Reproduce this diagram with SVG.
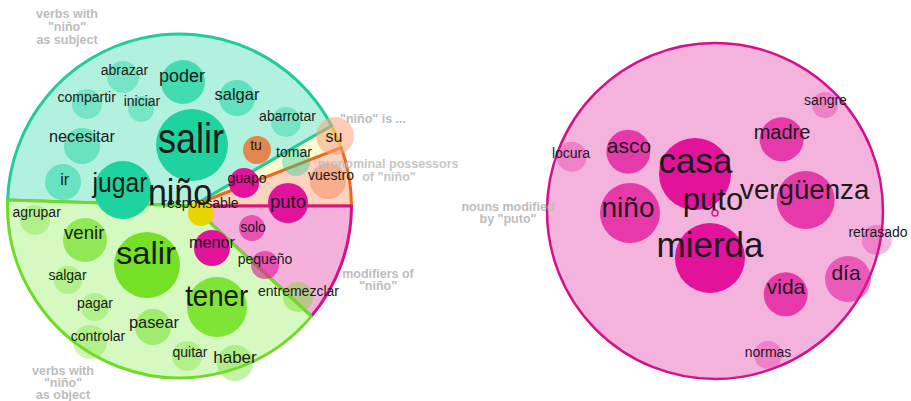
<svg xmlns="http://www.w3.org/2000/svg" width="911" height="401" viewBox="0 0 911 401">
<style>
.lbl{font-family:"Liberation Sans",Arial,sans-serif;fill:#1a1a1a;text-anchor:middle}
.cap{font-family:"Liberation Sans",Arial,sans-serif;font-weight:bold;fill:#bdbdbd;text-anchor:middle;font-size:12.5px}
.t{fill:#1ed3a0}
.g{fill:#74e126}
.m{fill:#e2129a}
.sec{stroke-width:3;stroke-linejoin:round}
</style>
<rect width="911" height="401" fill="#ffffff"/>
<g id="sectors">
<path id="sec-niño-is" class="sec" d="M192,206 L331.6,125.7 A172,172 0 0 1 341.2,147.6 Z" fill="#fdfbd2" stroke="#ecd600" stroke-width="6"/>
<path id="sec-subject" class="sec" d="M192,206 L7.6,200 A172,172 0 0 1 331.6,125.7 Z" fill="#b3f1df" stroke="#20cc98"/>
<path id="sec-possessors" class="sec" d="M192,206 L341.2,147.6 A172,172 0 0 1 351.5,206 Z" fill="#fcd3bf" stroke="#f0661e"/>
<path id="sec-modifiers" class="sec" d="M192,206 L351.5,206 A172,172 0 0 1 311.3,316.4 Z" fill="#f3b1dc" stroke="#d80f88"/>
<path id="sec-object" class="sec" d="M192,206 L311.3,316.4 A172,172 0 0 1 7.6,200 Z" fill="#d5f9c1" stroke="#6edc27"/>
<circle id="sec-puto" cx="715" cy="211" r="168" fill="#f3b3dd" stroke="#d5108a" stroke-width="2.5"/>
</g>
<g id="connectors"></g>
<g id="captions">
<text class="cap" x="67" y="18">verbs with</text>
<text class="cap" x="67" y="31">"niño"</text>
<text class="cap" x="67" y="44">as subject</text>
<text class="cap" x="63" y="375">verbs with</text>
<text class="cap" x="63" y="387">"niño"</text>
<text class="cap" x="63" y="399">as object</text>
<text class="cap" x="373" y="123">"niño" is ...</text>
<text class="cap" x="378" y="278">modifiers of</text>
<text class="cap" x="378" y="290">"niño"</text>
<text class="cap" x="508" y="211">nouns modified</text>
<text class="cap" x="508" y="223">by "puto"</text>
</g>
<g id="n-abrazar"><circle class="t" cx="123" cy="77" r="16" opacity="0.4"/><text class="lbl" x="124.5" y="75" font-size="14">abrazar</text></g>
<g id="n-poder"><circle class="t" cx="183" cy="82" r="22" opacity="0.75"/><text class="lbl" x="182" y="82" font-size="18">poder</text></g>
<g id="n-compartir"><circle class="t" cx="87" cy="104" r="15" opacity="0.4"/><text class="lbl" x="86.7" y="101.5" font-size="14">compartir</text></g>
<g id="n-iniciar"><circle class="t" cx="141" cy="109" r="13" opacity="0.4"/><text class="lbl" x="142" y="105.5" font-size="14">iniciar</text></g>
<g id="n-salgar-s"><circle class="t" cx="237" cy="98" r="18" opacity="0.55"/><text class="lbl" x="237" y="100" font-size="16.5">salgar</text></g>
<g id="n-abarrotar"><circle class="t" cx="286" cy="122" r="15" opacity="0.4"/><text class="lbl" x="287.5" y="120.7" font-size="14">abarrotar</text></g>
<g id="n-necesitar"><circle class="t" cx="82" cy="146" r="18" opacity="0.5"/><text class="lbl" x="82" y="141.7" font-size="16.3">necesitar</text></g>
<g id="n-salir-s"><circle class="t" cx="192" cy="145" r="36"/><text class="lbl" x="191" y="153" font-size="42" textLength="66" lengthAdjust="spacingAndGlyphs">salir</text></g>
<g id="n-tomar"><circle class="t" cx="296" cy="162" r="14" opacity="0.4"/><text class="lbl" x="294" y="156.7" font-size="14">tomar</text></g>
<g id="n-ir"><circle class="t" cx="63" cy="182" r="18" opacity="0.5"/><text class="lbl" x="64.7" y="185" font-size="16">ir</text></g>
<g id="n-jugar"><circle class="t" cx="123" cy="190" r="29"/><text class="lbl" x="120" y="191.5" font-size="27" textLength="55" lengthAdjust="spacingAndGlyphs">jugar</text></g>
<g id="n-tu"><circle cx="257" cy="150" r="14" fill="#e3874f"/><text class="lbl" x="256" y="150" font-size="14">tu</text></g>
<g id="n-su"><circle cx="335" cy="136" r="19" fill="#f9a27a" opacity="0.55"/><text class="lbl" x="334" y="141.7" font-size="16">su</text></g>
<g id="n-vuestro"><circle cx="328" cy="181" r="18" fill="#f5956b" opacity="0.6"/><text class="lbl" x="331" y="180" font-size="14">vuestro</text></g>
<text class="cap" x="388" y="168" opacity="0.85">pronominal possessors</text>
<text class="cap" x="389" y="181" opacity="0.85">of "niño"</text>
<g id="n-responsable"><circle cx="201" cy="213" r="13" fill="#e8d400"/><text class="lbl" x="200.5" y="208.3" font-size="14">responsable</text></g>
<g id="n-guapo"><circle class="m" cx="244" cy="183" r="15"/><text class="lbl" x="247" y="183.3" font-size="14">guapo</text></g>
<g id="n-puto-m"><circle class="m" cx="288" cy="203" r="20"/><text class="lbl" x="288" y="208.3" font-size="18.5">puto</text></g>
<g id="n-menor"><circle class="m" cx="212" cy="248" r="18"/><text class="lbl" x="212" y="247.7" font-size="16.2">menor</text></g>
<g id="n-solo"><circle class="m" cx="252" cy="228" r="13" opacity="0.6"/><text class="lbl" x="253" y="231.7" font-size="14">solo</text></g>
<g id="n-pequeño"><circle class="m" cx="265" cy="265" r="14" opacity="0.6"/><text class="lbl" x="265" y="264" font-size="14">pequeño</text></g>
<g id="n-entremezclar"><circle class="g" cx="298" cy="297" r="15" opacity="0.45"/><text class="lbl" x="298.5" y="296" font-size="14">entremezclar</text></g>
<g id="n-agrupar"><circle class="g" cx="35" cy="220" r="15" opacity="0.35"/><text class="lbl" x="36.7" y="217.3" font-size="14">agrupar</text></g>
<g id="n-venir"><circle class="g" cx="85" cy="240" r="22" opacity="0.7"/><text class="lbl" x="84.2" y="239.3" font-size="18.6">venir</text></g>
<g id="n-salir-o"><circle class="g" cx="147" cy="265" r="33"/><text class="lbl" x="146" y="264.3" font-size="32" textLength="60" lengthAdjust="spacingAndGlyphs">salir</text></g>
<g id="n-salgar-o"><circle class="g" cx="68" cy="280" r="14" opacity="0.35"/><text class="lbl" x="67.5" y="280" font-size="14">salgar</text></g>
<g id="n-pagar"><circle class="g" cx="95" cy="307" r="14" opacity="0.35"/><text class="lbl" x="95" y="307.7" font-size="14">pagar</text></g>
<g id="n-tener"><circle class="g" cx="217" cy="307" r="30" opacity="0.9"/><text class="lbl" x="216.7" y="306" font-size="30" textLength="63" lengthAdjust="spacingAndGlyphs">tener</text></g>
<g id="n-pasear"><circle class="g" cx="153" cy="327" r="18" opacity="0.55"/><text class="lbl" x="154" y="328.3" font-size="16.4">pasear</text></g>
<g id="n-controlar"><circle class="g" cx="90" cy="342" r="17" opacity="0.35"/><text class="lbl" x="98" y="340.7" font-size="14">controlar</text></g>
<g id="n-quitar"><circle class="g" cx="187" cy="356" r="15" opacity="0.35"/><text class="lbl" x="190" y="356.7" font-size="14">quitar</text></g>
<g id="n-haber"><circle class="g" cx="235" cy="363" r="18" opacity="0.4"/><text class="lbl" x="235" y="363.3" font-size="17">haber</text></g>
<g id="n-niño"><text class="lbl" x="180" y="205" font-size="36" textLength="64" lengthAdjust="spacingAndGlyphs">niño</text></g>
<g id="r-locura"><circle class="m" cx="571.7" cy="156.7" r="15" opacity="0.3"/><text class="lbl" x="571" y="158.3" font-size="14">locura</text></g>
<g id="r-asco"><circle class="m" cx="628.3" cy="151.7" r="22" opacity="0.75"/><text class="lbl" x="629" y="152.7" font-size="21">asco</text></g>
<g id="r-casa"><circle class="m" cx="695" cy="174" r="36"/><text class="lbl" x="695.5" y="172.5" font-size="35">casa</text></g>
<g id="r-madre"><circle class="m" cx="781.7" cy="139.3" r="22" opacity="0.75"/><text class="lbl" x="782" y="139.3" font-size="20">madre</text></g>
<g id="r-sangre"><circle class="m" cx="825" cy="105" r="13" opacity="0.3"/><text class="lbl" x="825.5" y="105" font-size="14">sangre</text></g>
<g id="r-niño"><circle class="m" cx="630" cy="213" r="30" opacity="0.75"/><text class="lbl" x="628" y="217" font-size="28">niño</text></g>
<g id="r-vergüenza"><circle class="m" cx="805.7" cy="200" r="29" opacity="0.75"/><text class="lbl" x="804.7" y="199.3" font-size="27.7">vergüenza</text></g>
<g id="r-mierda"><circle class="m" cx="710" cy="258" r="35"/><text class="lbl" x="710" y="256.7" font-size="35">mierda</text></g>
<g id="r-retrasado"><circle class="m" cx="876.7" cy="240" r="15" opacity="0.3"/><text class="lbl" x="878" y="236.7" font-size="14">retrasado</text></g>
<g id="r-día"><circle class="m" cx="848" cy="279" r="23" opacity="0.55"/><text class="lbl" x="846" y="280" font-size="21">día</text></g>
<g id="r-vida"><circle class="m" cx="785.7" cy="294.3" r="22" opacity="0.75"/><text class="lbl" x="786" y="294" font-size="21">vida</text></g>
<g id="r-normas"><circle class="m" cx="768" cy="355" r="14" opacity="0.3"/><text class="lbl" x="768" y="356.7" font-size="14">normas</text></g>
<g id="r-puto"><circle cx="715" cy="213" r="3" fill="none" stroke="#e2129a" stroke-width="1.5"/><text class="lbl" x="713" y="210" font-size="31">puto</text></g>
</svg>
